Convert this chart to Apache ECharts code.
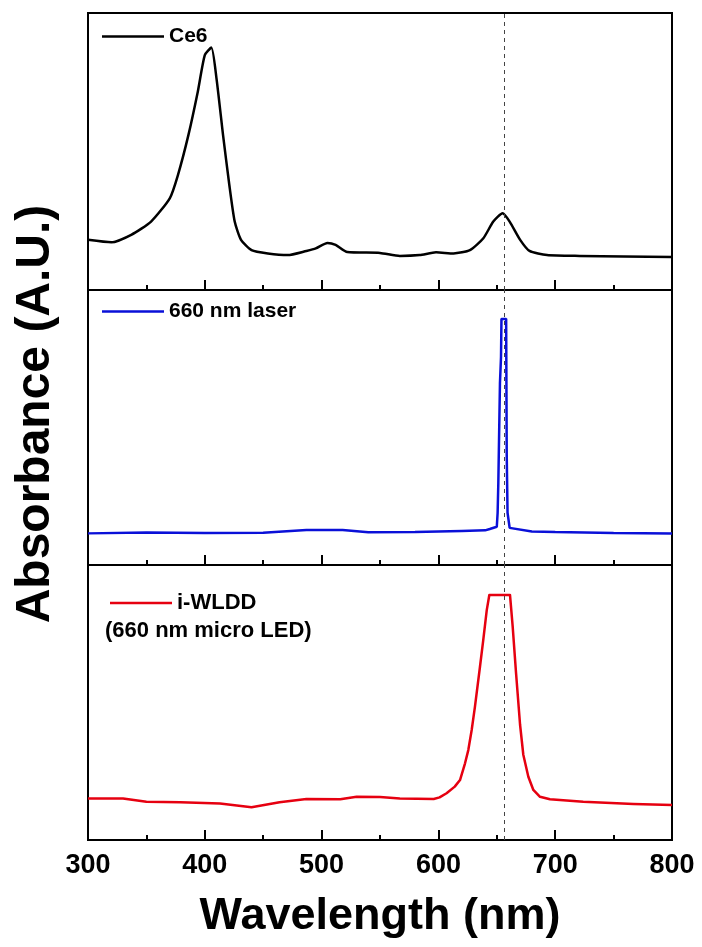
<!DOCTYPE html>
<html>
<head>
<meta charset="utf-8">
<script src="https://cdn.jsdelivr.net/npm/echarts@6/dist/echarts.min.js"></script>
<style>
  html, body { margin: 0; padding: 0; background: #fff; }
  #main { width: 702px; height: 947px; }
</style>
</head>
<body>
<div id="main"></div>
<script>
  // Ce6 absorbance
  var ce6Wl  = [300, 320, 337, 354, 370, 377, 386, 394, 400, 405.6, 410, 415.6, 421, 425.6, 431, 440, 454, 471, 487, 495, 505, 512, 522, 550, 567, 584, 598, 613, 627, 638.5, 647, 655, 661, 670, 678, 693, 721, 800];
  var ce6Abs = [0.181, 0.172, 0.199, 0.247, 0.331, 0.415, 0.560, 0.716, 0.848, 0.875, 0.764, 0.560, 0.379, 0.247, 0.181, 0.144, 0.132, 0.126, 0.141, 0.150, 0.170, 0.163, 0.137, 0.134, 0.123, 0.126, 0.136, 0.132, 0.144, 0.187, 0.247, 0.277, 0.247, 0.181, 0.141, 0.126, 0.123, 0.119];

  // 660 nm laser spectrum (middle panel)
  var laserWl  = [300, 350, 400, 450, 487, 518, 540, 580, 620, 640, 644, 650, 650.7, 651.3, 652.7, 653.6, 654, 658, 658.5, 659.2, 661, 680, 700, 750, 800];
  var laserAbs = [0.115, 0.118, 0.116, 0.117, 0.127, 0.127, 0.119, 0.120, 0.124, 0.126, 0.131, 0.139, 0.189, 0.297, 0.661, 0.756, 0.895, 0.895, 0.400, 0.190, 0.135, 0.122, 0.120, 0.116, 0.115];

  // i-WLDD (660 nm micro LED) spectrum (bottom panel)
  var ledWl  = [300, 330, 350, 379, 413, 440, 464, 487, 516, 530, 550, 567, 596, 601, 607, 614, 618.5, 622.8, 625.6, 628.5, 631.3, 635.6, 638.4, 641.4, 643.6, 661.3, 663.6, 666.5, 669.9, 672.7, 677, 681.3, 687, 695.5, 724, 767, 800];
  var ledAbs = [0.151, 0.151, 0.139, 0.137, 0.133, 0.119, 0.137, 0.149, 0.148, 0.157, 0.156, 0.151, 0.149, 0.155, 0.170, 0.194, 0.218, 0.279, 0.327, 0.400, 0.485, 0.630, 0.727, 0.836, 0.891, 0.891, 0.776, 0.606, 0.420, 0.310, 0.230, 0.182, 0.157, 0.148, 0.139, 0.131, 0.127];

  var xTicks = [300, 400, 500, 600, 700, 800];
  var markWl = 656;

  function zip(a, b) {
    return a.map(function (v, i) { return [v, b[i]]; });
  }

  var FONT = 'Liberation Sans, Arial, sans-serif';
  var LINE_ICON = 'path://M0,9 L62,9 L62,11.5 L0,11.5 Z';
  var myChart = echarts.init(document.getElementById('main'));

  var tops = [13, 290, 565];
  var heights = [277, 275, 275];

  var grids = tops.map(function (t, i) {
    return { left: 88, right: 30, top: t, height: heights[i], show: true, borderColor: '#000', borderWidth: 2 };
  });

  var xAxes = tops.map(function (t, i) {
    return {
      type: 'value', gridIndex: i, min: xTicks[0], max: xTicks[xTicks.length - 1], interval: 100,
      axisLine: { show: true, lineStyle: { color: '#000', width: 2 } },
      axisTick: { show: true, inside: true, length: 10, lineStyle: { color: '#000', width: 2 } },
      minorTick: { show: true, splitNumber: 2, length: 5, lineStyle: { color: '#000', width: 2 } },
      splitLine: { show: false },
      axisLabel: {
        show: i === 2, margin: 12, color: '#000', fontSize: 27, fontWeight: 'bold', fontFamily: FONT
      }
    };
  });

  var yAxes = tops.map(function (t, i) {
    return { type: 'value', gridIndex: i, min: 0, max: 1, show: false };
  });

  function mark() {
    return {
      silent: true, symbol: 'none', label: { show: false },
      lineStyle: { type: [4, 4], color: '#444', width: 1 },
      data: [{ xAxis: markWl }]
    };
  }

  function legendText(size) {
    return { fontSize: size, fontWeight: 'bold', color: '#000', fontFamily: FONT };
  }

  var option = {
    animation: false,
    backgroundColor: '#fff',
    grid: grids,
    xAxis: xAxes,
    yAxis: yAxes,
    legend: [
      { data: ['Ce6'], left: 97, top: 21, itemWidth: 62, itemHeight: 20, icon: LINE_ICON,
        textStyle: legendText(21) },
      { data: ['660 nm laser'], left: 97, top: 296, itemWidth: 62, itemHeight: 20, icon: LINE_ICON,
        textStyle: legendText(21) },
      { data: ['i-WLDD'], left: 105, top: 587, itemWidth: 62, itemHeight: 20, icon: LINE_ICON,
        textStyle: legendText(22) }
    ],
    graphic: [
      { type: 'text', left: 105, top: 620,
        style: { text: '(660 nm micro LED)', fill: '#000', font: 'bold 22px ' + FONT } },
      { type: 'text', x: 36, y: 414, rotation: Math.PI / 2,
        style: { text: 'Absorbance (A.U.)', fill: '#000', font: 'bold 48px ' + FONT,
                 textAlign: 'center', textVerticalAlign: 'middle' } },
      { type: 'text', x: 380, y: 917,
        style: { text: 'Wavelength (nm)', fill: '#000', font: 'bold 45px ' + FONT,
                 textAlign: 'center', textVerticalAlign: 'middle' } }
    ],
    series: [
      { name: 'Ce6', type: 'line', xAxisIndex: 0, yAxisIndex: 0, showSymbol: false, symbol: 'none',
        smooth: 0.2, color: '#000', lineStyle: { color: '#000', width: 2.5, join: 'round' },
        data: zip(ce6Wl, ce6Abs), markLine: mark() },
      { name: '660 nm laser', type: 'line', xAxisIndex: 1, yAxisIndex: 1, showSymbol: false, symbol: 'none',
        color: '#0a10d8', lineStyle: { color: '#0a10d8', width: 2.5 },
        data: zip(laserWl, laserAbs), markLine: mark() },
      { name: 'i-WLDD', type: 'line', xAxisIndex: 2, yAxisIndex: 2, showSymbol: false, symbol: 'none',
        color: '#e60010', lineStyle: { color: '#e60010', width: 2.5, join: 'round' },
        data: zip(ledWl, ledAbs), markLine: mark() }
    ]
  };

  myChart.setOption(option);
</script>
</body>
</html>
